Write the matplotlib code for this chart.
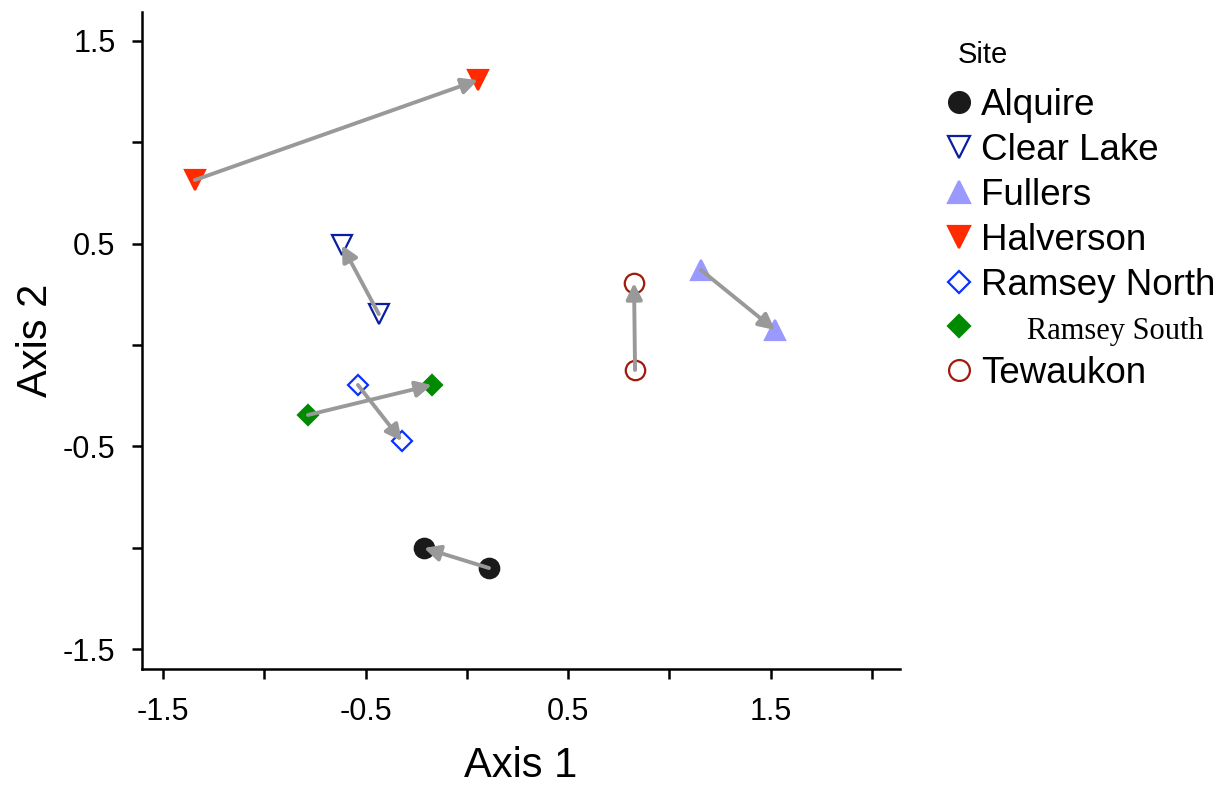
import matplotlib
matplotlib.use("Agg")
import matplotlib.pyplot as plt
from matplotlib.lines import Line2D

plt.rcParams['font.family'] = ['Liberation Sans', 'DejaVu Sans']

# site names and their two ordination positions (start -> end of arrow)
sites = ["Alquire", "Clear Lake", "Fullers", "Halverson",
         "Ramsey North", "Ramsey South", "Tewaukon"]
x_start = [0.109, -0.435, 1.156, -1.343, -0.538, -0.785, 0.830]
y_start = [-1.100, 0.153, 0.370, 0.814, -0.197, -0.345, -0.123]
x_end = [-0.212, -0.617, 1.521, 0.054, -0.321, -0.173, 0.825]
y_end = [-1.001, 0.493, 0.074, 1.307, -0.474, -0.197, 0.306]

xticks = [-1.5, -1.0, -0.5, 0.0, 0.5, 1.0, 1.5, 2.0]
xtick_labels = ["-1.5", "", "-0.5", "", "0.5", "", "1.5", ""]
yticks = [-1.5, -1.0, -0.5, 0.0, 0.5, 1.0, 1.5]
ytick_labels = ["-1.5", "", "-0.5", "", "0.5", "", "1.5"]

# marker, face, edge
styles = {
    "Alquire": ("o", "#1a1a1a", "#1a1a1a"),
    "Clear Lake": ("v", "white", "#0a1fa0"),
    "Fullers": ("^", "#9999ff", "#9999ff"),
    "Halverson": ("v", "#ff2a00", "#ff2a00"),
    "Ramsey North": ("D", "white", "#0a32ff"),
    "Ramsey South": ("D", "#008a00", "#008a00"),
    "Tewaukon": ("o", "white", "#a01a0a"),
}
sizes = {"o": 14, "v": 15, "^": 15, "D": 10}

fig = plt.figure(figsize=(12.22, 7.85), dpi=100)
ax = fig.add_axes([0.1162, 0.1478, 0.6203, 0.8369])

handles = []
for i, s in enumerate(sites):
    m, fc, ec = styles[s]
    ax.plot([x_start[i], x_end[i]], [y_start[i], y_end[i]], linestyle="none",
            marker=m, markersize=sizes[m], markerfacecolor=fc,
            markeredgecolor=ec, markeredgewidth=1.6, zorder=2)
    ax.annotate("", xy=(x_end[i], y_end[i]), xytext=(x_start[i], y_start[i]),
                arrowprops=dict(arrowstyle="-|>", color="#999999", lw=2.8,
                                mutation_scale=24, shrinkA=0, shrinkB=0),
                zorder=3)
    handles.append(Line2D([], [], linestyle="none", marker=m,
                          markersize=sizes[m] + 1, markerfacecolor=fc,
                          markeredgecolor=ec, markeredgewidth=1.6))

ax.set_xlim(-1.604, 2.138)
ax.set_ylim(-1.598, 1.643)
ax.set_xticks(xticks)
ax.set_xticklabels(xtick_labels)
ax.set_yticks(yticks)
ax.set_yticklabels(ytick_labels)
ax.tick_params(direction="out", length=7, width=1.8, labelsize=22, pad=13)
ax.tick_params(axis="y", pad=12)
for sp in ["top", "right"]:
    ax.spines[sp].set_visible(False)
for sp in ["left", "bottom"]:
    ax.spines[sp].set_linewidth(1.8)

ax.set_xlabel("Axis 1", fontsize=30, labelpad=14)
ax.set_ylabel("Axis 2", fontsize=30, labelpad=5)

labels = list(sites)
labels[5] = "      Ramsey South"
leg = ax.legend(handles, labels, loc="upper left",
                bbox_to_anchor=(1.039, 0.912), frameon=False, fontsize=26.5,
                handlelength=0.6, handletextpad=0.3,
                labelspacing=0.27, borderpad=0)
rs = leg.get_texts()[5]
rs.set_family("Liberation Serif")
rs.set_fontsize(22)

fig.text(958 / 1222, 1 - 55 / 785, "Site", fontsize=21, ha="left", va="center")

fig.savefig("out.png", dpi=100)
